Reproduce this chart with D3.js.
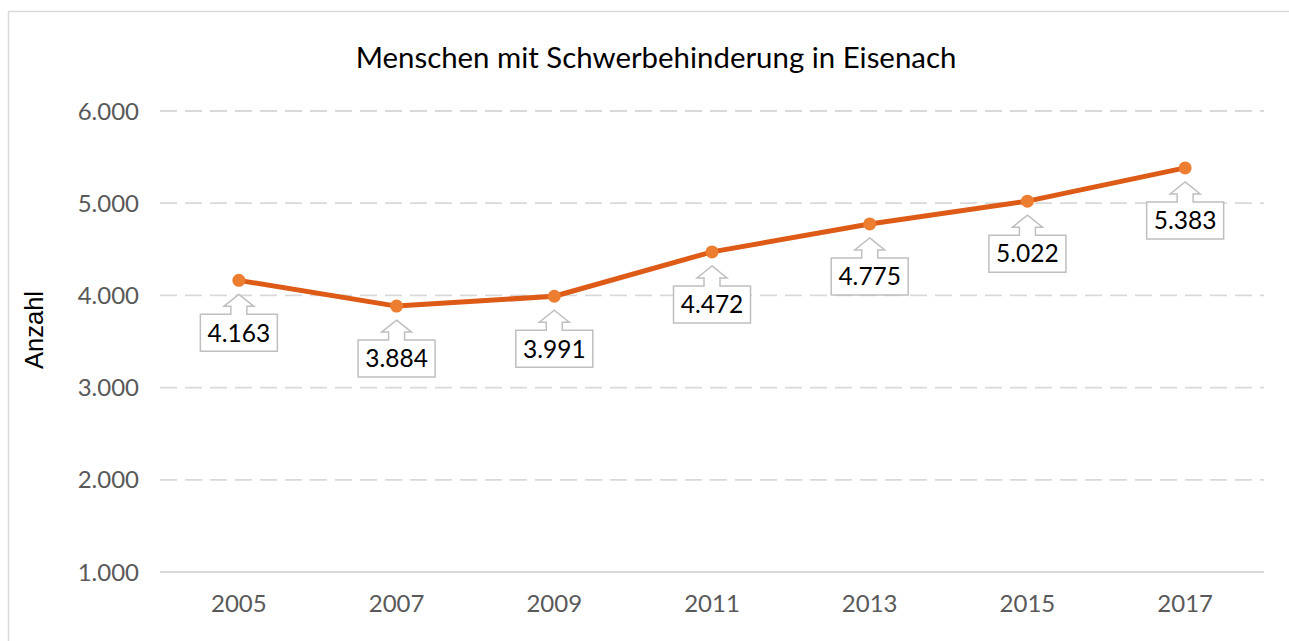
<!DOCTYPE html>
<html><head><meta charset="utf-8">
<script src="https://cdn.jsdelivr.net/npm/d3@7"></script>
<style>body{margin:0;background:#fff;}svg{display:block;font-family:Lato, "Open Sans", sans-serif;}</style>
</head><body>
<script>
const years = ["2005","2007","2009","2011","2013","2015","2017"];
const values = [4163, 3884, 3991, 4472, 4775, 5022, 5383];
const yTicks = [1000, 2000, 3000, 4000, 5000, 6000];
const title = "Menschen mit Schwerbehinderung in Eisenach";
const yTitle = "Anzahl";

const W = 1289, H = 641;
const loc = d3.formatLocale({decimal: ",", thousands: ".", grouping: [3], currency: ["", " €"]});
const fmt = loc.format(",.0f");

const svg = d3.select("body").append("svg").attr("width", W).attr("height", H);
svg.append("rect").attr("x", 8.5).attr("y", 11.5).attr("width", 1310).attr("height", 700)
  .attr("fill", "#fff").attr("stroke", "#d9d9d9").attr("stroke-width", 1.5);

const x = d3.scaleBand().domain(years).range([160, 1264]);
const y = d3.scaleLinear().domain([1000, 6000]).range([572, 111]);

// grid
svg.append("g").selectAll("line").data(yTicks).join("line")
  .attr("x1", 160).attr("x2", 1264)
  .attr("y1", d => y(d)).attr("y2", d => y(d))
  .attr("stroke", "#d9d9d9").attr("stroke-width", 1.8)
  .attr("stroke-dasharray", d => d === 1000 ? null : "17,8");

// y tick labels
svg.append("g").selectAll("text").data(yTicks).join("text")
  .attr("x", 139).attr("y", d => y(d)).attr("dy", "0.36em")
  .attr("text-anchor", "end").attr("font-size", 24).attr("fill", "#595959")
  .text(d => fmt(d));

// x tick labels
svg.append("g").selectAll("text").data(years).join("text")
  .attr("x", d => x(d) + x.bandwidth() / 2).attr("y", 612)
  .attr("text-anchor", "middle").attr("font-size", 24).attr("fill", "#595959")
  .text(d => d);

// title
svg.append("text").attr("x", 656).attr("y", 68)
  .attr("text-anchor", "middle").attr("font-size", 29.4).attr("fill", "#000").text(title);

// y title
svg.append("text").attr("transform", "translate(34,330) rotate(-90)").attr("dy", "0.36em")
  .attr("text-anchor", "middle").attr("font-size", 25.5).attr("fill", "#000")
  .attr("font-family", "'Liberation Sans', Arial, sans-serif").text(yTitle);

const data = years.map((yr, i) => ({yr, v: values[i]}));
const cx = d => x(d.yr) + x.bandwidth() / 2;

svg.append("path").datum(data)
  .attr("d", d3.line().x(cx).y(d => y(d.v)))
  .attr("fill", "none").attr("stroke", "#DD5B17").attr("stroke-width", 5).attr("stroke-linejoin", "round");

svg.append("g").selectAll("circle").data(data).join("circle")
  .attr("cx", cx).attr("cy", d => y(d.v)).attr("r", 6.5).attr("fill", "#ED7D31");

// callouts
const bw = 77, bh = 37;
const callouts = svg.append("g").selectAll("g").data(data).join("g")
  .attr("transform", d => `translate(${cx(d)},${y(d.v)})`);
callouts.append("path")
  .attr("d", () => {
    const tip = 14, head = 26, top = 34, hw = 15, sw = 8;
    return `M0,${tip} L${hw},${head} L${sw},${head} L${sw},${top} L${bw/2},${top} L${bw/2},${top+bh} L${-bw/2},${top+bh} L${-bw/2},${top} L${-sw},${top} L${-sw},${head} L${-hw},${head} Z`;
  })
  .attr("fill", "#fff").attr("stroke", "#bfbfbf").attr("stroke-width", 1.5);
callouts.append("text").attr("x", 0).attr("y", 34 + bh / 2).attr("dy", "0.36em")
  .attr("text-anchor", "middle").attr("font-size", 24.5).attr("fill", "#000")
  .text(d => fmt(d.v));
</script>
</body></html>
